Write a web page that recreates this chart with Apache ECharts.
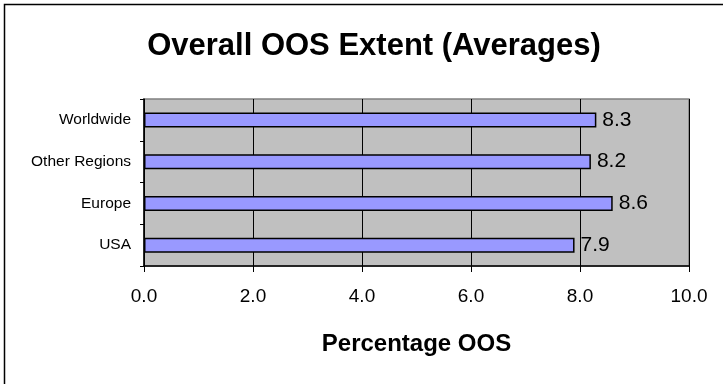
<!DOCTYPE html>
<html>
<head>
<meta charset="utf-8">
<script src="https://cdn.jsdelivr.net/npm/echarts@6/dist/echarts.min.js"></script>
<style>
  html, body { margin: 0; padding: 0; background: #ffffff; }
  #chart { width: 723px; height: 384px; }
</style>
</head>
<body>
<div id="chart"></div>
<script>
// Regions, bottom to top
const regions = ['USA', 'Europe', 'Other Regions', 'Worldwide'];
// Average out-of-stock extent (%) per region
const oosAverages = [7.9, 8.6, 8.2, 8.3];
// Horizontal axis ticks
const xTicks = [0, 2, 4, 6, 8, 10];

const FONT = '"Liberation Sans", Arial, sans-serif';

const chart = echarts.init(document.getElementById('chart'), null, { renderer: 'canvas' });

chart.setOption({
  backgroundColor: '#ffffff',
  animation: false,
  title: {
    text: 'Overall OOS Extent (Averages)',
    left: 369,
    top: 26,
    textAlign: 'center',
    textStyle: { fontFamily: FONT, fontSize: 31, fontWeight: 'bold', color: '#000000' }
  },
  graphic: [{
    // outer chart frame (only top and left edges fall inside the canvas)
    type: 'rect',
    shape: { x: 4.5, y: 4.5, width: 900, height: 600 },
    style: { fill: 'none', stroke: '#000000', lineWidth: 1.5 },
    silent: true,
    z: 100
  }],
  grid: {
    left: 144, top: 99, right: 34, bottom: 118,
    show: true,
    backgroundColor: '#c0c0c0',
    borderColor: '#808080',
    borderWidth: 1.5
  },
  xAxis: {
    type: 'value',
    min: xTicks[0],
    max: xTicks[xTicks.length - 1],
    interval: 2,
    name: 'Percentage OOS',
    nameLocation: 'middle',
    nameGap: 66,
    nameTextStyle: { fontFamily: FONT, fontSize: 24, fontWeight: 'bold', color: '#000000' },
    axisLine: { show: true, lineStyle: { color: '#000000', width: 1.5 } },
    axisTick: { show: true, length: 6, lineStyle: { color: '#000000', width: 1 } },
    axisLabel: {
      margin: 21,
      fontFamily: FONT, fontSize: 19, color: '#000000',
      formatter: v => v.toFixed(1)
    },
    splitLine: { show: true, lineStyle: { color: '#000000', width: 1 } }
  },
  yAxis: {
    type: 'category',
    data: regions,
    axisLine: { show: true, lineStyle: { color: '#000000', width: 1.5 } },
    axisTick: { show: true, length: 4, lineStyle: { color: '#000000', width: 1 } },
    axisLabel: { margin: 13, fontFamily: FONT, fontSize: 15.5, color: '#000000' },
    splitLine: { show: false }
  },
  series: [{
    type: 'bar',
    data: oosAverages,
    barWidth: 15,
    itemStyle: { color: '#9999ff', borderColor: '#000000', borderWidth: 1.5 },
    label: {
      show: true,
      position: 'right',
      distance: 6,
      fontFamily: FONT, fontSize: 21, color: '#000000',
      formatter: p => p.value.toFixed(1)
    }
  }]
});
</script>
</body>
</html>
